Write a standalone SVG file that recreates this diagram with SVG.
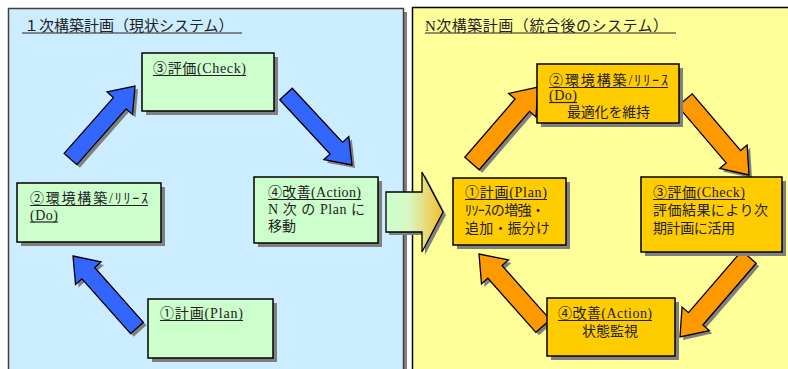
<svg xmlns="http://www.w3.org/2000/svg" width="788" height="369" viewBox="0 0 788 369">
<defs>
<style>
.t{font-family:"Liberation Serif","Noto Sans CJK JP",serif;fill:#222;font-size:14px}
.ttl{font-size:15px}
.ul{stroke:#222;stroke-width:1.2}
.g{fill:#CCFFCC;stroke:#000;stroke-width:1.5}
.o{fill:#FFCC00;stroke:#000;stroke-width:1.5}
.sh{fill:#808080}
.ba{fill:#3366FF;stroke:#000;stroke-width:1.3;stroke-linejoin:miter}
.oa{fill:#FF9900;stroke:#000;stroke-width:1.3;stroke-linejoin:miter}
</style>
<linearGradient id="tg" x1="0" y1="0" x2="1" y2="0">
<stop offset="0" stop-color="#CCFFCC"/>
<stop offset="0.4" stop-color="#D6F8C4"/>
<stop offset="1" stop-color="#F5BE2E"/>
</linearGradient>
</defs>

<g id="panel-left">
<rect class="sh" x="12" y="12" width="395" height="370"/>
<rect x="8.5" y="8.5" width="395" height="370" fill="#CCECFF" stroke="#404040" stroke-width="1.5"/>
<text class="t ttl" x="24" y="31">１次構築計画（現状システム）</text>
<line class="ul" x1="22" y1="33" x2="242" y2="33"/>
</g>

<g id="panel-right">
<rect x="412.5" y="7.5" width="390" height="370" fill="#FFFF99" stroke="#000" stroke-width="1.5"/>
<text class="t ttl" x="425" y="31" textLength="243">N次構築計画（統合後のシステム）</text>
<line class="ul" x1="425" y1="33" x2="676" y2="33"/>
</g>

<g id="connectors">
<g transform="translate(3,3)" class="sh">
<polygon points="135,86 132.51,114.5 126.14,108.87 76.87,164.63 64.13,153.37 113.4,97.61 107.03,91.98"/>
<polygon points="352,165 323.89,159.72 330.11,153.94 279.77,99.79 292.23,88.21 342.57,142.36 348.79,136.58"/>
<polygon points="73,256 100.99,261.9 94.63,267.54 143.35,322.35 130.65,333.65 81.93,278.84 75.57,284.48"/>
<polygon points="538,87 535.95,116.93 529.51,111.38 479.19,169.71 464.81,157.29 515.13,98.96 508.69,93.41"/>
<polygon points="749,175 719.73,168.43 726.19,162.92 677.77,106.17 692.23,93.83 740.65,150.58 747.11,145.07"/>
<polygon points="680,337 682.04,307.07 688.48,312.63 741.81,250.8 756.19,263.2 702.86,325.03 709.3,330.59"/>
<polygon points="479,254 508.4,259.98 502.05,265.63 550.1,319.69 535.9,332.31 487.85,278.25 481.5,283.9"/>
<polygon points="386,192 422,192 422,172 443,212 422,252 422,232 386,232"/>
</g>
<polygon class="ba" points="135,86 132.51,114.5 126.14,108.87 76.87,164.63 64.13,153.37 113.4,97.61 107.03,91.98"/>
<polygon class="ba" points="352,165 323.89,159.72 330.11,153.94 279.77,99.79 292.23,88.21 342.57,142.36 348.79,136.58"/>
<polygon class="ba" points="73,256 100.99,261.9 94.63,267.54 143.35,322.35 130.65,333.65 81.93,278.84 75.57,284.48"/>
<polygon class="oa" points="538,87 535.95,116.93 529.51,111.38 479.19,169.71 464.81,157.29 515.13,98.96 508.69,93.41"/>
<polygon class="oa" points="749,175 719.73,168.43 726.19,162.92 677.77,106.17 692.23,93.83 740.65,150.58 747.11,145.07"/>
<polygon class="oa" points="680,337 682.04,307.07 688.48,312.63 741.81,250.8 756.19,263.2 702.86,325.03 709.3,330.59"/>
<polygon class="oa" points="479,254 508.4,259.98 502.05,265.63 550.1,319.69 535.9,332.31 487.85,278.25 481.5,283.9"/>
<polygon points="386,192 422,192 422,172 443,212 422,252 422,232 386,232" fill="url(#tg)" stroke="#000" stroke-width="1.3"/>
</g>

<g id="left-check">
<rect class="sh" x="146" y="57" width="132" height="58"/>
<rect class="g" x="142" y="53" width="132" height="58"/>
<text class="t" x="153" y="73" textLength="93">③評価(Check)</text>
<line class="ul" x1="153" y1="75.5" x2="246" y2="75.5"/>
</g>

<g id="left-do">
<rect class="sh" x="21" y="187" width="144" height="59"/>
<rect class="g" x="17" y="183" width="144" height="59"/>
<text class="t" x="30" y="203" textLength="118">②環境構築/ﾘﾘｰｽ</text>
<line class="ul" x1="30" y1="205.5" x2="148" y2="205.5"/>
<text class="t" x="30" y="220" textLength="28">(Do)</text>
<line class="ul" x1="30" y1="222" x2="58" y2="222"/>
</g>

<g id="left-action">
<rect class="sh" x="258" y="181" width="124" height="66"/>
<rect class="g" x="254" y="177" width="124" height="66"/>
<text class="t" x="268" y="197" textLength="93">④改善(Action)</text>
<line class="ul" x1="268" y1="199.5" x2="361" y2="199.5"/>
<text class="t" x="268" y="214" textLength="97">N 次 の Plan に</text>
<text class="t" x="268" y="231">移動</text>
</g>

<g id="left-plan">
<rect class="sh" x="152" y="303" width="125" height="59"/>
<rect class="g" x="148" y="299" width="125" height="59"/>
<text class="t" x="160" y="318" textLength="83">①計画(Plan)</text>
<line class="ul" x1="160" y1="320.5" x2="243" y2="320.5"/>
</g>

<g id="right-do">
<rect class="sh" x="541" y="68" width="142" height="59"/>
<rect class="o" x="537" y="64" width="142" height="59"/>
<text class="t" x="549" y="85" textLength="119">②環境構築/ﾘﾘｰｽ</text>
<line class="ul" x1="549" y1="87.5" x2="668" y2="87.5"/>
<text class="t" x="549" y="100" textLength="28">(Do)</text>
<line class="ul" x1="549" y1="102.5" x2="577" y2="102.5"/>
<text class="t" x="567" y="117" textLength="83">最適化を維持</text>
</g>

<g id="right-plan">
<rect class="sh" x="457" y="182" width="113" height="67"/>
<rect class="o" x="453" y="178" width="113" height="67"/>
<text class="t" x="465" y="197" textLength="82">①計画(Plan)</text>
<line class="ul" x1="465" y1="199.5" x2="547" y2="199.5"/>
<text class="t" x="465" y="215" textLength="80">ﾘｿｰｽの増強・</text>
<text class="t" x="465" y="233" textLength="85">追加・振分け</text>
</g>

<g id="right-check">
<rect class="sh" x="645" y="181" width="141" height="75"/>
<rect class="o" x="641" y="177" width="141" height="75"/>
<text class="t" x="653" y="197" textLength="92">③評価(Check)</text>
<line class="ul" x1="653" y1="199.5" x2="745" y2="199.5"/>
<text class="t" x="653" y="215" textLength="115">評価結果により次</text>
<text class="t" x="653" y="233" textLength="82">期計画に活用</text>
</g>

<g id="right-action">
<rect class="sh" x="551" y="302" width="128" height="58"/>
<rect class="o" x="547" y="298" width="128" height="58"/>
<text class="t" x="558" y="318" textLength="94">④改善(Action)</text>
<line class="ul" x1="558" y1="320.5" x2="652" y2="320.5"/>
<text class="t" x="582" y="336" textLength="56">状態監視</text>
</g>
</svg>
